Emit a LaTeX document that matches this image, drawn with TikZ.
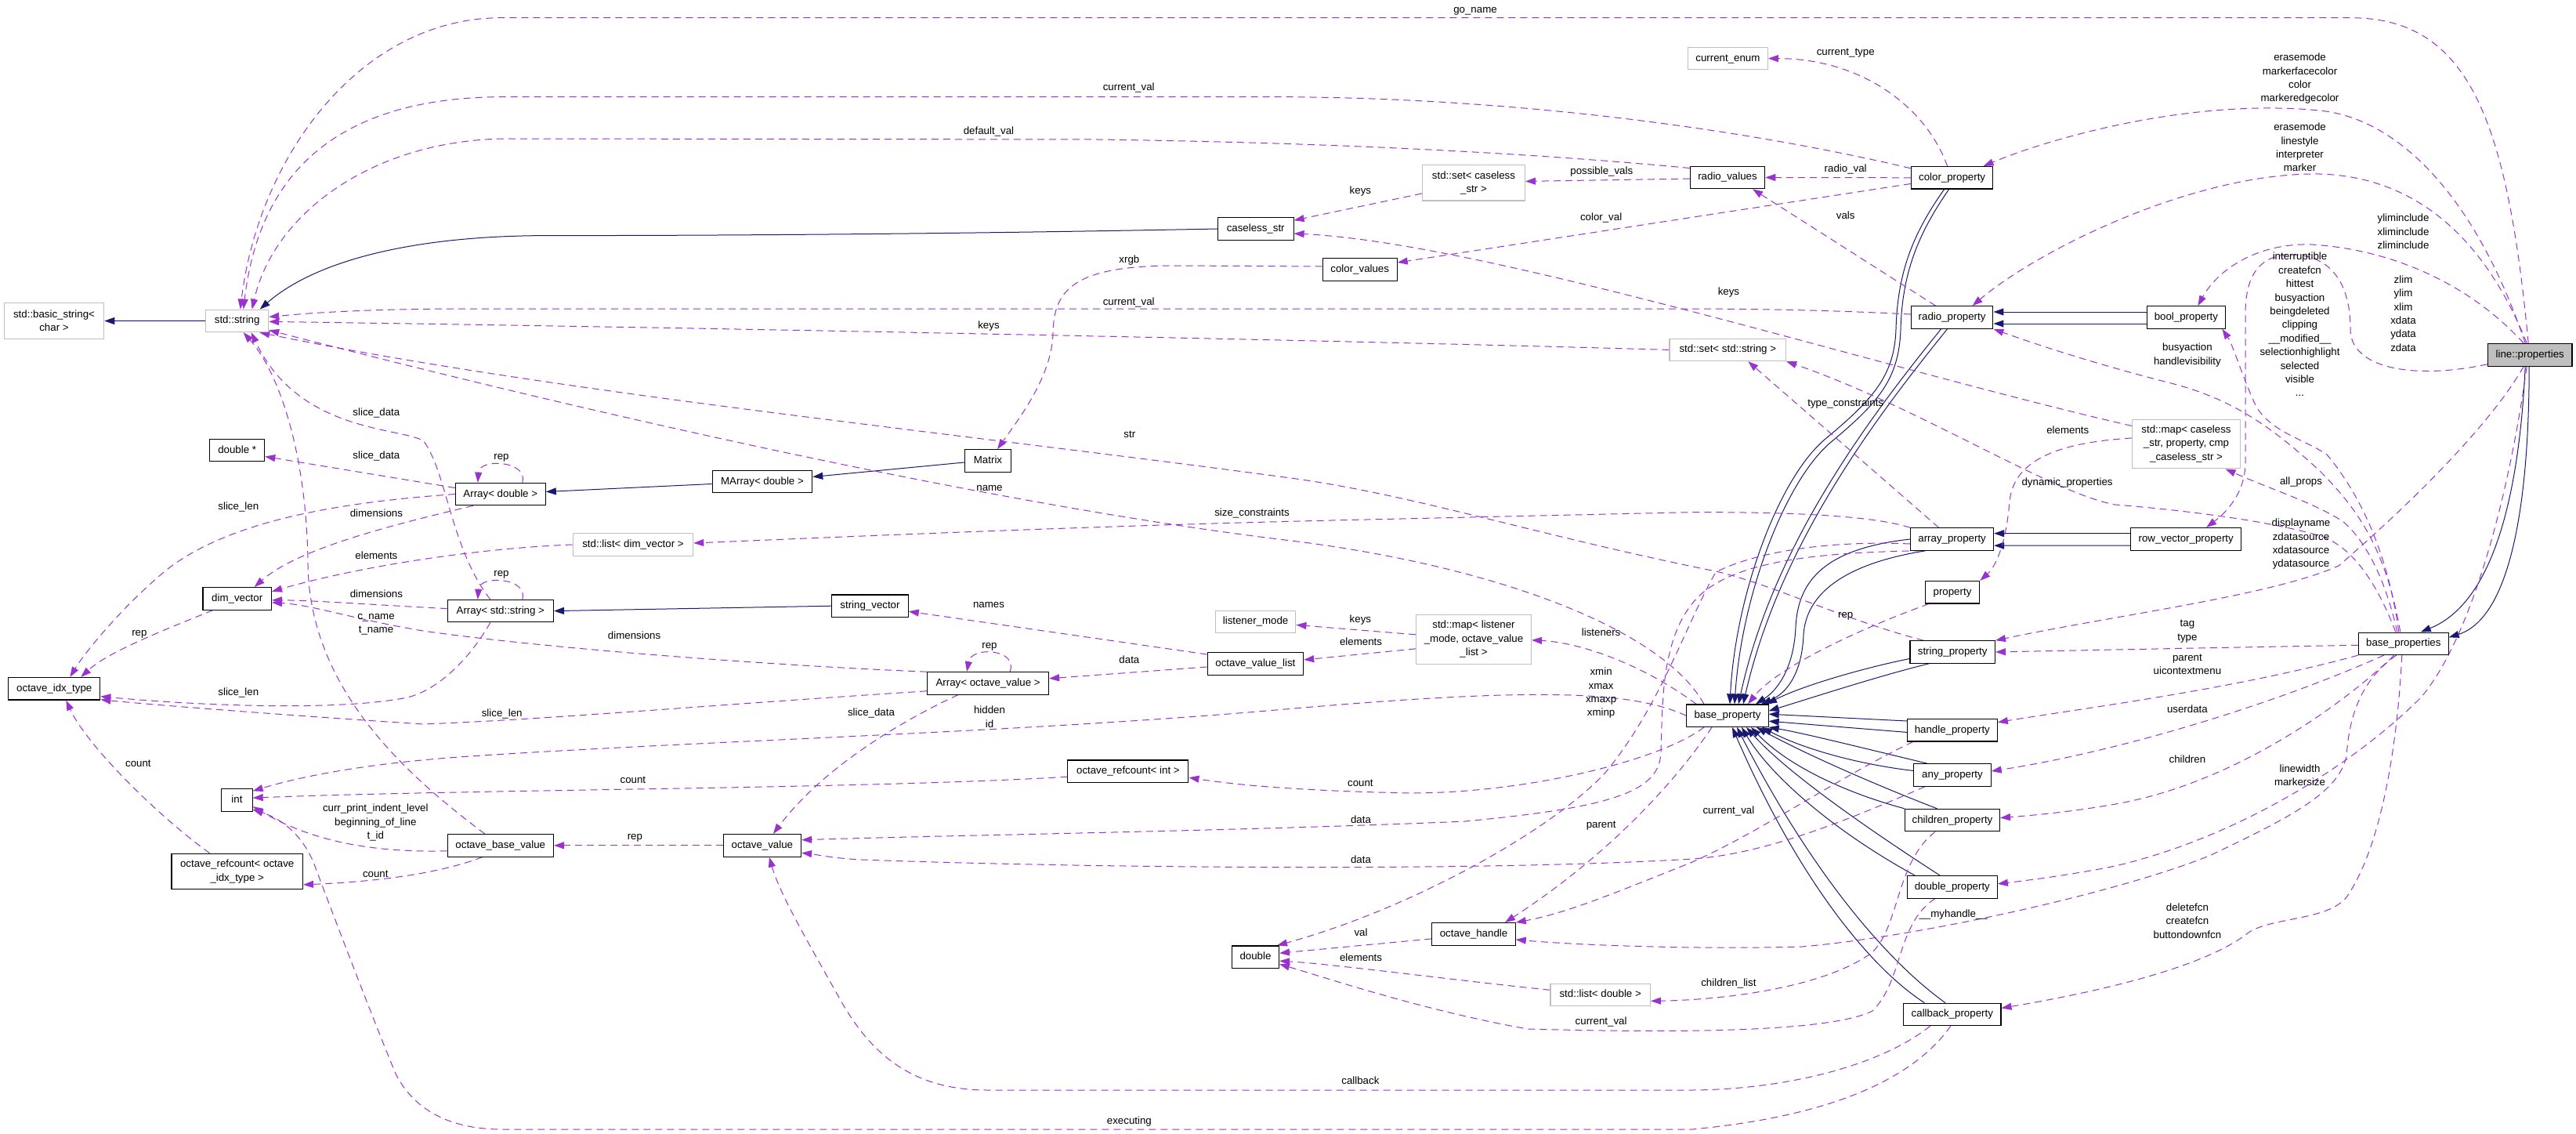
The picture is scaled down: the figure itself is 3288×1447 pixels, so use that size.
\documentclass[tikz,border=0pt]{standalone}
\usepackage{fontspec}
\setmainfont{Liberation Sans}
\usetikzlibrary{arrows.meta}
\definecolor{navyE}{HTML}{191970}
\definecolor{purpE}{HTML}{9A32CD}
\definecolor{grayB}{HTML}{BFBFBF}
\newcommand{\dxf}{\fontsize{13.3pt}{17.4pt}\selectfont}
\pgfdeclarelayer{bgl}
\pgfdeclarelayer{edgel}
\pgfsetlayers{bgl,edgel,main}
\begin{document}
\begin{tikzpicture}[x=1pt,y=-1pt,
  clsm/.style={draw=black, line width=1.1pt, fill=white, font=\dxf, align=center, inner xsep=0pt, inner ysep=0pt, minimum height=28.5pt},
  cls/.style={clsm, text height=9.5pt, text depth=2.5pt},
  ucls/.style={cls, draw=grayB},
  uclsm/.style={clsm, draw=grayB},
  twoL/.style={minimum height=45.3pt},
  threeL/.style={minimum height=62.8pt},
  elbl/.style={font=\dxf, align=center, inner sep=0pt, text height=9.5pt, text depth=2.5pt},
  elblm/.style={font=\dxf, align=center, inner sep=0pt},
  inhE/.style={draw=navyE, line width=1pt, -{Triangle[length=13pt,width=9pt]}},
  depE/.style={draw=purpE, line width=1pt, dash pattern=on 9pt off 6pt, -{Triangle[length=13pt,width=9pt]}}
]
\useasboundingbox (0,0) rectangle (3288,1447);
\begin{pgfonlayer}{bgl}
\fill[white] (0,0) rectangle (3288,1447);
\end{pgfonlayer}

% ---------------- nodes ----------------
\node[uclsm, twoL, minimum width=127.5pt] (bstr) at (69,409.5) {std::basic\_string<\\ char >};
\node[ucls, minimum width=80pt] (sstr) at (302.7,409.4) {std::string};
\node[cls, minimum width=70pt] (dblp) at (302.7,574.5) {double *};
\node[cls, minimum width=115pt] (arrd) at (638.8,630.5) {Array< double >};
\node[cls, minimum width=127.5pt] (marrd) at (973,614.5) {MArray< double >};
\node[ucls, minimum width=153.5pt] (ldim) at (808,695) {std::list< dim\_vector >};
\node[cls, minimum width=59pt] (matrix) at (1261,588) {Matrix};
\node[cls, minimum width=96.7pt] (cstr) at (1602.7,292) {caseless\_str};
\node[uclsm, twoL, minimum width=131pt] (setcs) at (1881,233.4) {std::set< caseless\\\_str >};
\node[cls, minimum width=95pt] (cvals) at (1735.7,344) {color\_values};
\node[ucls, minimum width=102pt] (cenum) at (2205.4,74.6) {current\_enum};
\node[cls, minimum width=95.4pt] (rvals) at (2205,226.5) {radio\_values};
\node[ucls, minimum width=148.6pt] (setstr) at (2205.3,446.4) {std::set< std::string >};
\node[cls, minimum width=104.6pt] (colp) at (2491.6,226.8) {color\_property};
\node[cls, minimum width=104.6pt] (radp) at (2491.6,405) {radio\_property};
\node[cls, minimum width=106pt] (arrp) at (2491.6,688) {array\_property};
\node[cls, minimum width=100.5pt] (boolp) at (2790.4,405) {bool\_property};
\node[uclsm, threeL, minimum width=137.7pt] (mapcs) at (2790.5,566.5) {std::map< caseless\\\_str, property, cmp\\\_caseless\_str >};
\node[cls, minimum width=140.6pt] (rowp) at (2790.2,687.8) {row\_vector\_property};
\node[cls, fill=grayB, minimum width=107.6pt] (lp) at (3229.2,452.8) {line::properties};
\node[cls, minimum width=114.7pt] (bps) at (3067.8,821.3) {base\_properties};
\node[cls, minimum width=69.7pt] (prop) at (2492,755.7) {property};
\node[cls, minimum width=108.5pt] (strp) at (2492.2,832) {string\_property};
\node[cls, minimum width=104.2pt] (bp) at (2205,913.2) {base\_property};
\node[cls, minimum width=115pt] (hndp) at (2491.8,931.7) {handle\_property};
\node[cls, minimum width=98.2pt] (anyp) at (2492,989) {any\_property};
\node[cls, minimum width=121pt] (chp) at (2492,1046.6) {children\_property};
\node[cls, minimum width=115pt] (dblprop) at (2491.8,1131.8) {double\_property};
\node[cls, minimum width=124.3pt] (cbp) at (2491.8,1294.4) {callback\_property};
\node[ucls, minimum width=127.5pt] (ldbl) at (2042.7,1269.3) {std::list< double >};
\node[cls, minimum width=106.4pt] (oh) at (1881,1191.9) {octave\_handle};
\node[cls, minimum width=60pt] (dbl) at (1602.5,1221.2) {double};
\node[uclsm, threeL, minimum width=147pt] (mapl) at (1881,815.8) {std::map< listener\\\_mode, octave\_value\\\_list >};
\node[ucls, minimum width=102.5pt] (lmode) at (1602.6,793.4) {listener\_mode};
\node[cls, minimum width=122.5pt] (ovl) at (1602.4,847) {octave\_value\_list};
\node[cls, minimum width=155pt] (arrov) at (1261.1,871.8) {Array< octave\_value >};
\node[cls, minimum width=97.5pt] (strvec) at (1110.5,773.2) {string\_vector};
\node[cls, minimum width=154pt] (rcint) at (1439.9,984.2) {octave\_refcount< int >};
\node[cls, minimum width=99.3pt] (ov) at (972.9,1078.8) {octave\_value};
\node[cls, minimum width=135.4pt] (obv) at (638.8,1078.8) {octave\_base\_value};
\node[cls, minimum width=135.4pt] (arrs) at (638.8,779.6) {Array< std::string >};
\node[cls, minimum width=87.5pt] (dimv) at (302.7,763.8) {dim\_vector};
\node[cls, minimum width=117pt] (oit) at (69.3,878.7) {octave\_idx\_type};
\node[cls, minimum width=39.3pt] (intn) at (302.5,1021.1) {int};
\node[clsm, twoL, minimum width=167.5pt] (rcoit) at (302.7,1111.9) {octave\_refcount< octave\\\_idx\_type >};

% ---------------- edges ----------------
\begin{pgfonlayer}{edgel}
% inheritance
\draw[inhE] (sstr.west) -- (bstr.east);
\draw[inhE] (cstr.west) .. controls (1300,297) and (1000,300.6) .. (700,300.6) .. controls (520,300.6) and (400,335) .. ([xshift=29pt]sstr.north);
\draw[inhE] ([yshift=-3pt]marrd.west) -- ([yshift=3pt]arrd.east);
\draw[inhE] ([yshift=-2pt]matrix.west) -- ([yshift=6pt]marrd.east);
\draw[inhE] (strvec.west) -- (arrs.east);
\draw[inhE] ([xshift=-10pt]colp.south) .. controls (2440,300) and (2422,350) .. (2420,420) .. controls (2418,480) and (2390,510) .. (2330,560) .. controls (2270,610) and (2215,760) .. ([xshift=3pt]bp.north);
\draw[inhE] ([xshift=-4pt]colp.south) .. controls (2447,300) and (2428,350) .. (2426,420) .. controls (2424,485) and (2396,515) .. (2336,565) .. controls (2278,615) and (2223,760) .. ([xshift=9pt]bp.north);
\draw[inhE] ([xshift=-14pt]radp.south) .. controls (2380,540) and (2262,700) .. ([xshift=14pt]bp.north);
\draw[inhE] ([xshift=-6pt]radp.south) .. controls (2388,540) and (2270,700) .. ([xshift=20pt]bp.north);
\draw[inhE] (arrp.west) .. controls (2330,700) and (2295,740) .. (2292,800) .. controls (2290,850) and (2270,880) .. ([xshift=36pt]bp.north);
\draw[inhE] ([xshift=-34pt]arrp.south) .. controls (2350,720) and (2305,760) .. (2302,810) .. controls (2300,860) and (2280,885) .. ([xshift=43pt]bp.north);
\draw[inhE] ([yshift=-8.5pt]strp.west) .. controls (2380,852) and (2300,875) .. ([xshift=50pt]bp.north);
\draw[inhE] ([xshift=-30pt]strp.south) .. controls (2400,862) and (2320,888) .. ([yshift=6pt]bp.east);
\draw[inhE] ([yshift=11.7pt]hndp.west) -- ([yshift=2pt]bp.east);
\draw[inhE] ([yshift=-2.7pt]hndp.west) -- ([yshift=-7pt]bp.east);
\draw[inhE] ([xshift=-32pt]anyp.north) .. controls (2380,955) and (2300,935) .. (bp.south east);
\draw[inhE] ([yshift=5.5pt]anyp.west) .. controls (2370,975) and (2300,955) .. ([xshift=44pt]bp.south);
\draw[inhE] (chp.north west) .. controls (2350,1010) and (2280,975) .. ([xshift=30pt]bp.south);
\draw[inhE] ([xshift=-19.5pt]chp.north) .. controls (2390,1000) and (2300,960) .. ([xshift=37pt]bp.south);
\draw[inhE] ([xshift=-47.8pt]dblprop.north) .. controls (2340,1060) and (2260,990) .. ([xshift=18pt]bp.south);
\draw[inhE] ([xshift=-15.8pt]dblprop.north) .. controls (2380,1055) and (2280,985) .. ([xshift=24pt]bp.south);
\draw[inhE] ([xshift=-35.4pt]cbp.north) .. controls (2380,1230) and (2290,1110) .. ([xshift=6pt]bp.south);
\draw[inhE] ([xshift=-8.8pt]cbp.north) .. controls (2400,1220) and (2305,1100) .. ([xshift=12pt]bp.south);
\draw[inhE] ([yshift=7pt]boolp.west) -- ([yshift=7pt]radp.east);
\draw[inhE] ([yshift=-8pt]boolp.west) -- ([yshift=-8pt]radp.east);
\draw[inhE] ([yshift=7.3pt]rowp.west) -- ([yshift=7.3pt]arrp.east);
\draw[inhE] ([yshift=-8.2pt]rowp.west) -- ([yshift=-8.2pt]arrp.east);
\draw[inhE] ([xshift=-6pt]lp.south) .. controls (3215,640) and (3180,770) .. ([xshift=22pt]bps.north);
\draw[inhE] ([xshift=-1pt]lp.south) .. controls (3228,660) and (3200,790) .. ([yshift=8pt]bps.east);

% usage (dashed)
\draw[depE] ([xshift=-2pt]lp.north) .. controls (3200,150) and (3150,22.7) .. (3000,22.7) -- (640,22.7) .. controls (460,22.7) and (330,200) .. ([xshift=4pt]sstr.north);
\draw[depE] ([yshift=12pt]colp.west) .. controls (2250,170) and (1950,123.6) .. (1620,123.6) -- (640,123.6) .. controls (420,125) and (330,230) .. ([xshift=8pt]sstr.north);
\draw[depE] ([yshift=12pt]rvals.west) .. controls (1950,195) and (1700,182) .. (1400,178) -- (650,177) .. controls (480,177) and (350,270) .. ([xshift=19pt]sstr.north);
\draw[depE] ([yshift=4pt]radp.west) .. controls (2300,394) and (2200,394) .. (2100,394) -- (600,394) .. controls (450,394) and (380,401) .. ([yshift=5pt]sstr.east);
\draw[depE] (setstr.west) .. controls (1700,434) and (900,418) .. ([yshift=-1pt]sstr.east);
\draw[depE] ([xshift=-13pt]arrs.north) .. controls (575,700) and (570,600) .. (540,562) .. controls (505,545) and (380,550) .. ([xshift=18pt]sstr.south);
\draw[depE] ([xshift=-20pt]obv.north) .. controls (520,990) and (395,880) .. (393,720) .. controls (392,590) and (360,480) .. ([xshift=8pt]sstr.south);
\draw[depE] ([xshift=-30pt]bp.north) .. controls (2120,800) and (1900,720) .. (1640,689) .. controls (1300,648) and (800,540) .. ([yshift=3pt]sstr.south east);
\draw[depE] ([xshift=-37pt]strp.north) .. controls (2350,790) and (2250,740) .. (2180,727) .. controls (1950,680) and (1800,630) .. (1640,609) .. controls (1200,550) and (700,500) .. ([xshift=-12pt]sstr.south east);
\draw[depE] ([yshift=23pt]mapcs.west) .. controls (2400,470) and (1900,310) .. ([yshift=-6pt]cstr.east);
\draw[depE] ([yshift=-1.5pt]rvals.west) -- ([yshift=2pt]setcs.east);
\draw[depE] ([yshift=-13.5pt]setcs.west) -- ([yshift=-4pt]cstr.north east);
\draw[depE] ([yshift=-7.7pt]colp.west) -- ([yshift=9pt]cvals.east);
\draw[depE] (colp.west) -- (rvals.east);
\draw[depE] ([xshift=-6pt]colp.north) .. controls (2460,140) and (2380,75) .. (cenum.east);
\draw[depE] ([xshift=-21pt]radp.north) -- ([xshift=32pt]rvals.south);
\draw[depE] ([yshift=4pt]cvals.west) -- (1500,339) .. controls (1370,339) and (1345,370) .. (1344,425) .. controls (1343,480) and (1300,535) .. ([xshift=12pt]matrix.north);
\draw[depE] ([xshift=-6pt]lp.north) .. controls (3160,250) and (3060,150) .. (2960,141) .. controls (2800,125) and (2620,175) .. ([xshift=40pt]colp.north);
\draw[depE] ([xshift=-4pt]lp.north) .. controls (3170,300) and (3080,225) .. (2960,222) .. controls (2800,220) and (2600,320) .. ([xshift=26pt]radp.north);
\draw[depE] ([xshift=-8pt]lp.north) .. controls (3150,360) and (3050,318) .. (2950,312) .. controls (2880,310) and (2830,345) .. ([xshift=15pt]boolp.north);
\draw[depE] ([yshift=-12pt]lp.west) .. controls (3080,485) and (3000,470) .. (3000,420) .. controls (3000,350) and (2965,325) .. (2925,325) .. controls (2885,325) and (2866,350) .. (2866,400) -- (2866,590) .. controls (2866,630) and (2840,655) .. ([xshift=26pt]rowp.north);
\draw[depE] ([xshift=-6pt]bps.north) .. controls (3050,720) and (3020,640) .. (2970,580) .. controls (2940,560) and (2895,550) .. (2878,515) .. controls (2862,480) and (2850,440) .. ([xshift=46pt]boolp.south);
\draw[depE] ([xshift=-4pt]bps.north) .. controls (3045,700) and (3010,650) .. (2960,600) .. controls (2900,545) and (2850,510) .. (2775,490) .. controls (2680,466) and (2600,440) .. (radp.south east);
\draw[depE] ([xshift=-8pt]bps.north) .. controls (3045,740) and (3020,690) .. (2990,665) .. controls (2950,640) and (2900,625) .. ([xshift=50pt]mapcs.south);
\draw[depE] ([xshift=-10pt]bps.north) .. controls (3040,760) and (3010,700) .. (2962,684) .. controls (2880,660) and (2750,648) .. (2700,644) .. controls (2620,630) and (2450,520) .. (setstr.south east);
\draw[depE] ([yshift=7.5pt]mapcs.west) .. controls (2620,565) and (2570,590) .. (2565,640) .. controls (2560,700) and (2545,725) .. (prop.north east);
\draw[depE] ([xshift=-17pt]arrp.north) -- ([xshift=26pt]setstr.south);
\draw[depE] (arrp.north west) .. controls (2380,655) and (2250,653.6) .. (2160,653.6) -- (1700,664) .. controls (1400,671) and (1100,684) .. ([yshift=2pt]ldim.east);
\draw[depE] ([xshift=-8pt]lp.south) .. controls (3180,540) and (3080,640) .. (2985,722) .. controls (2900,760) and (2700,785) .. (strp.north east);
\draw[depE] ([yshift=-2pt]bps.west) .. controls (2850,826) and (2700,829) .. (strp.east);
\draw[depE] (bps.south west) .. controls (2850,880) and (2650,905) .. ([yshift=10pt]hndp.east);
\draw[depE] ([xshift=-25pt]bps.south) .. controls (2900,900) and (2700,960) .. ([yshift=5pt]anyp.east);
\draw[depE] ([xshift=-12pt]bps.south) .. controls (2990,900) and (2850,1000) .. (2700,1026) .. controls (2650,1035) and (2600,1040) .. ([yshift=3pt]chp.east);
\draw[depE] ([xshift=-9pt]bps.south) .. controls (3010,870) and (2998,920) .. (2995,965) .. controls (2985,1010) and (2930,1040) .. (2820,1092) .. controls (2700,1140) and (2450,1195) .. (2300,1208) .. controls (2150,1212) and (2000,1205) .. ([yshift=-7pt]oh.east);
\draw[depE] ([xshift=-4pt]lp.south) .. controls (3200,650) and (3150,820) .. (3090,890) .. controls (3000,980) and (2850,1070) .. (2700,1105) .. controls (2650,1115) and (2600,1122) .. ([yshift=4pt]dblprop.east);
\draw[depE] ([xshift=-2pt]bps.south) .. controls (3060,950) and (3040,1080) .. (2995,1145) .. controls (2970,1175) and (2900,1170) .. (2870,1190) .. controls (2820,1230) and (2700,1262) .. ([yshift=8pt]cbp.east);
\draw[depE] ([xshift=-30pt]prop.south) .. controls (2380,800) and (2270,850) .. ([xshift=26pt]bp.north);
\draw[depE] ([xshift=-40pt]bp.north) .. controls (2100,850) and (2020,820) .. ([yshift=-1pt]mapl.east);
\draw[depE] (bp.west) .. controls (2080,880) and (1950,878) .. (1640,905) .. controls (1300,935) and (900,945) .. (600,965) .. controls (450,975) and (370,995) .. ([yshift=-3pt]intn.north east);
\draw[depE] ([xshift=-30pt]bp.south) .. controls (2120,970) and (1950,1012) .. (1800,1012) .. controls (1700,1010) and (1600,1005) .. ([yshift=-8pt]rcint.east);
\draw[depE] ([xshift=-20pt]bp.south) .. controls (2130,1010) and (2040,1100) .. ([xshift=40pt]oh.north);
\draw[depE] ([xshift=-50pt]hndp.south) .. controls (2350,990) and (2250,1060) .. (2160,1100) .. controls (2060,1140) and (2000,1165) .. (oh.north east);
\draw[depE] ([xshift=-35pt]anyp.south) .. controls (2350,1050) and (2250,1090) .. (2160,1096) .. controls (1900,1112) and (1400,1108) .. (1100,1097) .. controls (1060,1095) and (1040,1090) .. ([yshift=-9.5pt]ov.east);
\draw[depE] ([xshift=-40pt]arrp.south) .. controls (2300,705) and (2200,720) .. (2160,770) .. controls (2120,820) and (2122,900) .. (2120,960) .. controls (2118,1010) and (2060,1030) .. (1870,1048) .. controls (1600,1060) and (1200,1066) .. ([yshift=7pt]ov.east);
\draw[depE] ([yshift=-6pt]arrp.west) .. controls (2350,690) and (2250,700) .. (2190,730) .. controls (2150,800) and (2120,900) .. (2049,986) .. controls (1980,1060) and (1800,1160) .. ([xshift=-3pt]dbl.north east);
\draw[depE] ([xshift=-28pt]cbp.south) .. controls (2400,1360) and (2280,1390) .. (2160,1391) -- (1260,1391) .. controls (1160,1391) and (1110,1340) .. (1075,1280) .. controls (1030,1200) and (995,1140) .. ([xshift=9pt]ov.south);
\draw[depE] ([xshift=-2pt]cbp.south) .. controls (2440,1380) and (2330,1425) .. (2160,1441) -- (640,1441) .. controls (580,1441) and (530,1420) .. (505,1370) .. controls (480,1310) and (430,1180) .. (400,1100) .. controls (385,1065) and (360,1045) .. ([yshift=-12pt]intn.east);
\draw[depE] ([xshift=-22pt]dblprop.south) .. controls (2420,1180) and (2430,1250) .. (2390,1290) .. controls (2330,1320) and (2100,1317) .. (1950,1313) .. controls (1820,1290) and (1700,1250) .. ([yshift=-9pt]dbl.east);
\draw[depE] ([xshift=-22pt]chp.south) .. controls (2420,1100) and (2425,1180) .. (2390,1215) .. controls (2330,1260) and (2200,1276) .. ([yshift=-8pt]ldbl.east);
\draw[depE] ([yshift=6pt]ldbl.west) .. controls (1850,1250) and (1700,1230) .. ([yshift=-5pt]dbl.east);
\draw[depE] ([yshift=-6pt]oh.west) -- ([yshift=5pt]dbl.east);
\draw[depE] ([yshift=6pt]mapl.west) -- ([yshift=-4pt]lmode.east);
\draw[depE] ([yshift=-12pt]mapl.west) -- ([yshift=5pt]ovl.east);
\draw[depE] ([yshift=12pt]ovl.west) -- ([yshift=-7pt]strvec.east);
\draw[depE] ([yshift=-4pt]ovl.west) -- ([yshift=6pt]arrov.east);
\draw[depE] ([yshift=-7pt]rcint.west) .. controls (1100,1007) and (600,1007) .. ([yshift=3pt]intn.east);
\draw[depE] (ov.west) -- (obv.east);
\draw[depE] ([xshift=-38pt]arrov.south) .. controls (1150,920) and (1050,980) .. ([xshift=14pt]ov.north);
\draw[depE] ([yshift=14.6pt]arrov.west) .. controls (1000,850) and (700,828) .. (540,805) .. controls (450,790) and (400,772) .. ([yshift=-5pt]dimv.east);
\draw[depE] ([yshift=-10pt]arrov.west) .. controls (900,900) and (700,918) .. (540,924) .. controls (400,915) and (200,900) .. ([yshift=-14pt]oit.east);
\draw[depE] ([xshift=28pt]arrov.north) .. controls (1300,828) and (1240,824) .. ([xshift=-27pt]arrov.north);
\draw[depE] ([xshift=28pt]arrd.north) .. controls (675,588) and (612,584) .. ([xshift=-29pt]arrd.north);
\draw[depE] ([xshift=28pt]arrs.north) .. controls (675,737) and (612,733) .. ([xshift=-29pt]arrs.north);
\draw[depE] ([yshift=8pt]arrd.west) -- ([yshift=-8pt]dblp.east);
\draw[depE] ([xshift=-35pt]arrd.south) .. controls (500,670) and (380,700) .. ([xshift=22pt]dimv.north);
\draw[depE] (arrd.west) .. controls (450,640) and (300,660) .. (214,726) .. controls (160,770) and (110,830) .. ([xshift=20pt]oit.north);
\draw[depE] ([yshift=3pt]arrs.west) .. controls (480,772) and (400,766) .. ([yshift=-2pt]dimv.east);
\draw[depE] (ldim.west) .. controls (600,700) and (450,725) .. ([yshift=9pt]dimv.east);
\draw[depE] ([xshift=-13pt]arrs.south) .. controls (600,840) and (560,880) .. (520,890) .. controls (430,908) and (250,900) .. ([yshift=-10pt]oit.east);
\draw[depE] ([xshift=-31pt]dimv.south) .. controls (220,800) and (140,830) .. ([xshift=34pt]oit.north);
\draw[depE] ([xshift=-35pt]rcoit.north) .. controls (200,1040) and (110,950) .. ([xshift=15pt]oit.south);
\draw[depE] ([yshift=-7pt]obv.west) .. controls (480,1088) and (400,1075) .. ([yshift=-8pt]intn.east);
\draw[depE] ([xshift=-23pt]obv.south) .. controls (560,1115) and (480,1125) .. ([yshift=-17pt]rcoit.east);
\end{pgfonlayer}

% ---------------- edge labels ----------------
\node[elbl] (l1) at (1883,12.7) {go\_name};
\node[elbl] (l2) at (1440.7,112.3) {current\_val};
\node[elbl] (l3) at (1262,168.5) {default\_val};
\node[elbl] (l4) at (2044.3,219.4) {possible\_vals};
\node[elbl] (l5) at (1736.4,244.5) {keys};
\node[elbl] (l6) at (2043.6,278.4) {color\_val};
\node[elbl] (l7) at (1441.4,331.8) {xrgb};
\node[elbl] (l8) at (1440.7,386) {current\_val};
\node[elbl] (l9) at (1262,416) {keys};
\node[elbl] (l10) at (1441.8,554.5) {str};
\node[elbl] (l11) at (1263,623) {name};
\node[elbl] (l12) at (1598,655) {size\_constraints};
\node[elbl] (l13) at (2355.7,67.5) {current\_type};
\node[elbl] (l14) at (2355.7,216) {radio\_val};
\node[elbl] (l15) at (2355.7,276) {vals};
\node[elbl] (l16) at (2206.4,372.8) {keys};
\node[elbl] (l17) at (2355.7,515) {type\_constraints};
\node[elbl] (l18) at (2639.3,550.3) {elements};
\node[elbl] (l19) at (2638.6,616) {dynamic\_properties};
\node[elblm] (l20) at (2935.5,100.3) {erasemode\\markerfacecolor\\color\\markeredgecolor};
\node[elblm] (l21) at (2935.5,188) {erasemode\\linestyle\\interpreter\\marker};
\node[elblm] (l22) at (3067.5,295.4) {yliminclude\\xliminclude\\zliminclude};
\node[elblm] (l23) at (3067.5,400) {zlim\\ylim\\xlim\\xdata\\ydata\\zdata};
\node[elblm] (l24) at (2935.5,414) {interruptible\\createfcn\\hittest\\busyaction\\beingdeleted\\clipping\\\_\_modified\_\_\\selectionhighlight\\selected\\visible\\...};
\node[elblm] (l25) at (2791.9,453.2) {busyaction\\handlevisibility};
\node[elbl] (l26) at (2937,615.4) {all\_props};
\node[elblm] (l27) at (2937,694.4) {displayname\\zdatasource\\xdatasource\\ydatasource};
\node[elblm] (l28) at (2791.9,805.5) {tag\\type};
\node[elblm] (l29) at (2791.9,848) {parent\\uicontextmenu};
\node[elbl] (l30) at (2791.9,906.3) {userdata};
\node[elbl] (l31) at (2791.9,970) {children};
\node[elblm] (l32) at (2935.5,989) {linewidth\\markersize};
\node[elblm] (l33) at (2791.9,1175.2) {deletefcn\\createfcn\\buttondownfcn};
\node[elbl] (l34) at (2355.7,784.8) {rep};
\node[elbl] (l35) at (2206.4,1035) {current\_val};
\node[elbl] (l36) at (2493.2,1166.9) {\_\_myhandle\_\_};
\node[elbl] (l37) at (2206.4,1255) {children\_list};
\node[elbl] (l38) at (1736.4,790.5) {keys};
\node[elbl] (l39) at (1737,820) {elements};
\node[elbl] (l40) at (2043.6,808.1) {listeners};
\node[elblm] (l41) at (2043.6,884.3) {xmin\\xmax\\xmaxp\\xminp};
\node[elbl] (l42) at (1736.4,1000) {count};
\node[elbl] (l43) at (1737,1047.3) {data};
\node[elbl] (l44) at (2043.6,1052.5) {parent};
\node[elbl] (l45) at (1737,1098.3) {data};
\node[elbl] (l46) at (1737,1190.7) {val};
\node[elbl] (l47) at (1737,1223) {elements};
\node[elbl] (l48) at (2043.6,1303.6) {current\_val};
\node[elbl] (l49) at (1736.4,1380.3) {callback};
\node[elbl] (l50) at (1262,771.5) {names};
\node[elbl] (l51) at (1263,823.9) {rep};
\node[elbl] (l52) at (1441.4,843) {data};
\node[elbl] (l53) at (1112,910) {slice\_data};
\node[elblm] (l54) at (1263,914.7) {hidden\\id};
\node[elbl] (l55) at (1441.4,1431.3) {executing};
\node[elbl] (l56) at (640,732) {rep};
\node[elbl] (l57) at (809.6,812.4) {dimensions};
\node[elbl] (l58) at (640.7,911) {slice\_len};
\node[elbl] (l59) at (807.9,996.3) {count};
\node[elbl] (l60) at (810.4,1068.3) {rep};
\node[elbl] (l61) at (480.4,527) {slice\_data};
\node[elbl] (l62) at (480.4,582.4) {slice\_data};
\node[elbl] (l63) at (304.3,646.5) {slice\_len};
\node[elbl] (l64) at (480.4,656) {dimensions};
\node[elbl] (l65) at (480.4,710.2) {elements};
\node[elbl] (l66) at (640,582.8) {rep};
\node[elbl] (l67) at (177.9,807.7) {rep};
\node[elbl] (l68) at (480.4,758.6) {dimensions};
\node[elblm] (l69) at (480,796.5) {c\_name\\t\_name};
\node[elbl] (l70) at (304.3,884.4) {slice\_len};
\node[elbl] (l71) at (176.4,975.4) {count};
\node[elblm] (l72) at (479.3,1049.8) {curr\_print\_indent\_level\\beginning\_of\_line\\t\_id};
\node[elbl] (l73) at (479.3,1115.9) {count};
\end{tikzpicture}
\end{document}
